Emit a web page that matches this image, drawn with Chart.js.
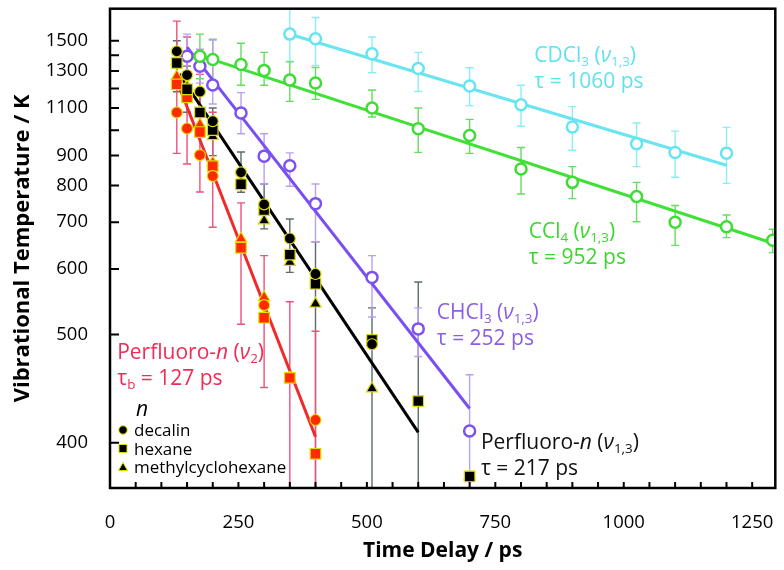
<!DOCTYPE html>
<html>
<head>
<meta charset="utf-8">
<script src="https://cdn.jsdelivr.net/npm/chart.js@4/dist/chart.umd.min.js"></script>
<style>
    html, body { margin: 0; padding: 0; background: #fff; }
</style>
</head>
<body>
<canvas id="grafico" width="784" height="570"></canvas>
<script>
// valores: atraso (ps) e temperatura vibracional (K)
const tCDCl3 = [350, 400, 510, 600, 700, 800, 900, 1025, 1100, 1200];
const tempCDCl3 = [1549, 1514, 1409, 1316, 1214, 1116, 1013, 945, 911, 909];
const lowCDCl3 = [1360, 1334, 1290, 1184, 1112, 1017, 920, 861, 826, 807];
const highCDCl3 = [1800, 1680, 1528, 1419, 1320, 1218, 1107, 1031, 996, 1012];

const tCCl4 = [175, 200, 255, 300, 350, 400, 510, 600, 700, 800, 900, 1025, 1100, 1200, 1290];
const tempCCl4 = [1393, 1372, 1340, 1304, 1247, 1231, 1100, 1006, 978, 853, 810, 768, 700, 689, 658];
const lowCCl4 = [1255, 1241, 1218, 1218, 1133, 1143, 1058, 912, 908, 775, 762, 701, 647, 664, 632];
const highCCl4 = [1549, 1511, 1482, 1419, 1357, 1322, 1192, 1100, 1047, 930, 861, 810, 743, 718, 683];

const tCHCl3 = [150, 175, 200, 255, 300, 350, 400, 510, 600, 700];
const tempCHCl3 = [1393, 1329, 1219, 1077, 898, 864, 748, 585, 507, 408];
const lowCHCl3 = [1270, 1230, 1120, 985, 805, 798, 655, 523, 474, 370];
const highCHCl3 = [1549, 1440, 1505, 1178, 985, 910, 805, 626, 536, 455];

// Perfluoro-n (v1,3), preto
const tDecalin13 = [130, 150, 175, 200, 255, 300, 350, 400, 510];
const tempDecalin13 = [1426, 1276, 1183, 1039, 842, 746, 662, 591, 488];
const tHexane13 = [130, 150, 175, 200, 255, 300, 350, 400, 510, 600, 700];
const tempHexane13 = [1350, 1196, 1079, 1000, 804, 731, 628, 574, 493, 431, 380];
const lowHexane13 = [1183, 1080, 980, 900, 780, 684, 594, 370, 370, 370, null];
const highHexane13 = [1500, 1330, 1190, 1100, 913, 805, 708, 655, 536, 577, null];
const tMethyl13 = [130, 150, 175, 200, 255, 300, 350, 400, 510, 700];
const tempMethyl13 = [1361, 1208, 1079, 974, 812, 704, 613, 542, 442, 380];

// Perfluoro-n (v2), vermelho
const tDecalin2 = [130, 150, 175, 200, 300, 400];
const tempDecalin2 = [1079, 1007, 902, 830, 540, 416];
const tHexane2 = [130, 150, 175, 200, 255, 300, 350, 400];
const tempHexane2 = [1223, 1154, 992, 863, 642, 522, 452, 393];
const lowHexane2 = [908, 870, 781, 688, 513, 443, 370, 370];
const highHexane2 = [1650, 1527, 1280, 1080, 750, 626, 545, 504];
const tMethyl2 = [130, 150, 175, 200, 255, 300, 350];
const tempMethyl2 = [1268, 1214, 1024, 875, 662, 552, 452];

// retas de ajuste (extremos)
const fitTCDCl3 = [350, 1200], fitCDCl3 = [1548, 866];
const fitTCCl4 = [170, 1295], fitCCl4 = [1404, 650];
const fitTCHCl3 = [150, 700], fitCHCl3 = [1455, 425];
const fitT13 = [135, 600], fit13 = [1282, 407];
const fitT2 = [130, 400], fit2 = [1245, 404];

const yTicks = [400, 500, 600, 700, 800, 900, 1000, 1100, 1200, 1300, 1400, 1500];
const yLabels = [400, 500, 600, 700, 800, 900, 1100, 1300, 1500];
const xTicks = [0, 250, 500, 750, 1000, 1250];

const FONT = "'Open Sans', sans-serif";
const T0 = 290; // eixo em ln(T - T0)

class TempScale extends Chart.LinearScale {
    static id = "tempScale";
    static defaults = {};
    buildTicks() {
        return yTicks.map(v => ({ value: v }));
    }
    configure() {
        super.configure();
        this._lo = Math.log(this.min - T0);
        this._hi = Math.log(this.max - T0);
    }
    getPixelForValue(v) {
        return this.getPixelForDecimal((Math.log(v - T0) - this._lo) / (this._hi - this._lo));
    }
    getValueForPixel(p) {
        return T0 + Math.exp(this._lo + this.getDecimalForPixel(p) * (this._hi - this._lo));
    }
}
Chart.register(TempScale);

const pts = (ts, vs) => ts.map((t, i) => ({ x: t, y: vs[i] }));

function openCircles(ts, vs, lo, hi, color, errColor) {
    return {
        data: pts(ts, vs), showLine: false, order: 0,
        pointStyle: "circle", pointRadius: 5.5, pointBorderWidth: 2.5,
        pointBackgroundColor: "#fff", pointBorderColor: color,
        errLow: lo, errHigh: hi, errColor: errColor
    };
}

function solid(ts, vs, style, radius, fill, extra) {
    return Object.assign({
        data: pts(ts, vs), showLine: false, order: 0,
        pointStyle: style, pointRadius: radius, pointBorderWidth: 1.2,
        pointBackgroundColor: fill, pointBorderColor: "#dede00"
    }, extra || {});
}

function fitLine(ts, vs, color) {
    return {
        data: pts(ts, vs), showLine: true, order: 1,
        borderColor: color, borderWidth: 3, pointRadius: 0
    };
}

const noPad = s => { s.paddingTop = 0; s.paddingBottom = 0; s.paddingLeft = 0; s.paddingRight = 0; };

const errorBars = {
    id: "errorBars",
    beforeDatasetsDraw(chart) {
        const { ctx, chartArea: a, scales: { x, y } } = chart;
        ctx.save();
        ctx.beginPath();
        ctx.rect(a.left, a.top, a.right - a.left, a.bottom - a.top);
        ctx.clip();
        ctx.lineWidth = 1.4;
        chart.data.datasets.forEach(ds => {
            if (!ds.errLow) return;
            ctx.strokeStyle = ds.errColor;
            ds.data.forEach((p, i) => {
                if (ds.errLow[i] == null) return;
                const px = x.getPixelForValue(p.x);
                const y1 = y.getPixelForValue(ds.errHigh[i]);
                const y2 = y.getPixelForValue(ds.errLow[i]);
                ctx.beginPath();
                ctx.moveTo(px, y1); ctx.lineTo(px, y2);
                ctx.moveTo(px - 4, y1); ctx.lineTo(px + 4, y1);
                ctx.moveTo(px - 4, y2); ctx.lineTo(px + 4, y2);
                ctx.stroke();
            });
        });
        ctx.restore();
    }
};

// texto com subscrito / italico: [texto, "s" | "i" | ""]
function drawRich(ctx, x, y, parts, size, color) {
    let cx = x;
    ctx.fillStyle = color;
    ctx.textBaseline = "alphabetic";
    ctx.textAlign = "left";
    parts.forEach(([txt, kind]) => {
        const sub = kind.includes("s");
        const fs = sub ? size * 0.64 : size;
        ctx.font = (kind.includes("i") ? "italic " : "") + fs + "px " + FONT;
        ctx.fillText(txt, cx, y + (sub ? size * 0.2 : 0));
        cx += ctx.measureText(txt).width;
    });
}

const notes = [
    { t: 826, temp: 1404, color: "#5fe2ee", lines: [
        [["CDCl", ""], ["3", "s"], [" (", ""], ["ν", "i"], ["1,3", "s"], [")", ""]],
        [["τ = 1060 ps", ""]] ] },
    { t: 815, temp: 680, color: "#3dd62f", lines: [
        [["CCl", ""], ["4", "s"], [" (", ""], ["ν", "i"], ["1,3", "s"], [")", ""]],
        [["τ = 952 ps", ""]] ] },
    { t: 636, temp: 531, color: "#8a5fe6", lines: [
        [["CHCl", ""], ["3", "s"], [" (", ""], ["ν", "i"], ["1,3", "s"], [")", ""]],
        [["τ = 252 ps", ""]] ] },
    { t: 14, temp: 480, color: "#ee2d55", lines: [
        [["Perfluoro-", ""], ["n", "i"], [" (", ""], ["ν", "i"], ["2", "s"], [")", ""]],
        [["τ", ""], ["b", "s"], [" = 127 ps", ""]] ] },
    { t: 722, temp: 401, color: "#111", lines: [
        [["Perfluoro-", ""], ["n", "i"], [" (", ""], ["ν", "i"], ["1,3", "s"], [")", ""]],
        [["τ = 217 ps", ""]] ] }
];

const legendItems = [["circle", "decalin"], ["rect", "hexane"], ["triangle", "methylcyclohexane"]];

const decor = {
    id: "decor",
    afterDatasetsDraw(chart) {
        const { ctx, chartArea: a, scales: { x, y } } = chart;
        ctx.save();
        // marcas internas dos eixos
        ctx.strokeStyle = "#000";
        ctx.lineWidth = 2;
        ctx.beginPath();
        yTicks.forEach(v => {
            const py = y.getPixelForValue(v);
            ctx.moveTo(a.left, py); ctx.lineTo(a.left + 9, py);
        });
        for (let v = 50; v < x.max; v += 50) {
            const px = x.getPixelForValue(v);
            ctx.moveTo(px, a.bottom); ctx.lineTo(px, a.bottom - 6);
        }
        ctx.stroke();
        ctx.lineWidth = 2.5;
        ctx.strokeRect(a.left, a.top, a.right - a.left, a.bottom - a.top);

        notes.forEach(n => {
            const px = x.getPixelForValue(n.t);
            const py = y.getPixelForValue(n.temp);
            n.lines.forEach((ln, k) => drawRich(ctx, px, py + 7.5 + k * 26, ln, 21, n.color));
        });

        // legenda
        drawRich(ctx, a.left + 26, a.bottom - 72, [["n", "i"]], 21, "#000");
        legendItems.forEach(([shape, label], k) => {
            const cy = a.bottom - 58 + k * 18.5;
            const cx = a.left + 13;
            ctx.fillStyle = "#000";
            ctx.strokeStyle = "#dede00";
            ctx.lineWidth = 1;
            ctx.beginPath();
            if (shape === "circle") ctx.arc(cx, cy, 4.2, 0, Math.PI * 2);
            else if (shape === "rect") ctx.rect(cx - 4, cy - 4, 8, 8);
            else { ctx.moveTo(cx, cy - 4.5); ctx.lineTo(cx + 4.5, cy + 3.5); ctx.lineTo(cx - 4.5, cy + 3.5); ctx.closePath(); }
            ctx.fill();
            ctx.stroke();
            drawRich(ctx, a.left + 24, cy + 6, [[label, ""]], 17, "#000");
        });
        ctx.restore();
    }
};

const RED = "#ff2a00";

new Chart(document.getElementById("grafico"), {
    type: "scatter",
    data: {
        datasets: [
            solid(tDecalin13, tempDecalin13, "circle", 5.5, "#000"),
            solid(tHexane13, tempHexane13, "rect", 7.5, "#000",
                { errLow: lowHexane13, errHigh: highHexane13, errColor: "#5e6b6b" }),
            solid(tMethyl13, tempMethyl13, "triangle", 6.5, "#000"),
            solid(tDecalin2, tempDecalin2, "circle", 5.5, RED),
            solid(tHexane2, tempHexane2, "rect", 7.5, RED,
                { errLow: lowHexane2, errHigh: highHexane2, errColor: "#f0507a" }),
            solid(tMethyl2, tempMethyl2, "triangle", 6.5, RED),
            openCircles(tCDCl3, tempCDCl3, lowCDCl3, highCDCl3, "#66e4f0", "#8ceef5"),
            openCircles(tCCl4, tempCCl4, lowCCl4, highCCl4, "#3fdc35", "#66dd5e"),
            openCircles(tCHCl3, tempCHCl3, lowCHCl3, highCHCl3, "#7d52f0", "#b9a0f2"),
            fitLine(fitTCDCl3, fitCDCl3, "#6ae5f0"),
            fitLine(fitTCCl4, fitCCl4, "#40e036"),
            fitLine(fitTCHCl3, fitCHCl3, "#7a4ff2"),
            fitLine(fitT13, fit13, "#000"),
            fitLine(fitT2, fit2, "#f2282a")
        ]
    },
    options: {
        responsive: false,
        animation: false,
        layout: { padding: { top: 4, right: 7, left: 0, bottom: 0 } },
        plugins: { legend: { display: false }, tooltip: { enabled: false } },
        scales: {
            x: {
                type: "linear",
                min: 0,
                max: 1295,
                afterBuildTicks: s => { s.ticks = xTicks.map(v => ({ value: v })); },
                afterFit: s => { s.height = 82; noPad(s); },
                grid: { display: false, drawTicks: false },
                border: { display: false },
                ticks: {
                    color: "#000", padding: 24, font: { family: FONT, size: 18.5 },
                    callback: v => String(v)
                },
                title: {
                    display: true, text: "Time Delay / ps", color: "#000",
                    font: { family: FONT, size: 21, weight: "bold" },
                    padding: { top: 0, bottom: 6 }
                }
            },
            y: {
                type: "tempScale",
                min: 374,
                max: 1755,
                afterFit: s => { s.width = 110; noPad(s); },
                grid: { display: false, drawTicks: false },
                border: { display: false },
                ticks: {
                    autoSkip: false, color: "#000", padding: 22,
                    font: { family: FONT, size: 18.5 },
                    callback: v => yLabels.includes(v) ? String(v) : ""
                },
                title: {
                    display: true, text: "Vibrational Temperature / K", color: "#000",
                    font: { family: FONT, size: 22, weight: "bold" },
                    padding: { top: 10, bottom: 0 }
                }
            }
        }
    },
    plugins: [errorBars, decor]
});
</script>
</body>
</html>
